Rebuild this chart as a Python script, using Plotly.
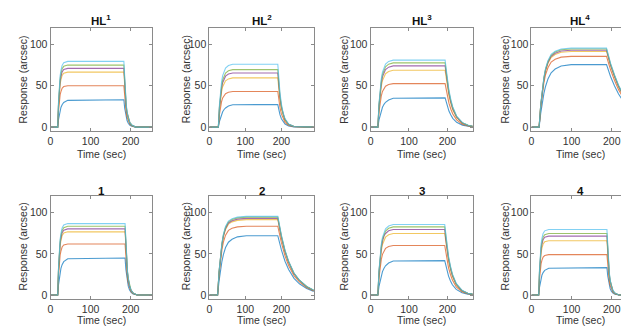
import plotly.graph_objects as go

# ---------------- data ----------------
panel_titles = ["HL<sup>1</sup>", "HL<sup>2</sup>", "HL<sup>3</sup>", "HL<sup>4</sup>", "1", "2", "3", "4"]
series_names = ["c1", "c2", "c3", "c4", "c5", "c6"]
x_tick_vals = [0, 100, 200]
y_tick_vals = [0, 50, 100]
x_max = [254, 290, 266, 243, 254, 290, 266, 243]

# HL1
t_hl1 = [0, 18, 20, 22, 24, 26, 29, 33, 43, 183, 185, 187, 189, 191, 194, 198, 203, 213, 254]
hl1_blue = [0, 0, 9.2, 15.8, 20.5, 23.8, 27.1, 29.7, 32.3, 33, 23.1, 16.2, 11.2, 7.9, 4.6, 2.3, 1.0, 0, 0]
hl1_orange = [0, 0, 19.5, 31.5, 39, 43, 47, 49, 50, 50, 35, 24.5, 17, 12, 7, 3.5, 1.5, 0, 0]
hl1_yellow = [0, 0, 25.9, 41.9, 51.9, 57.2, 62.5, 65.2, 66.5, 66.5, 46.6, 32.6, 22.6, 16.0, 9.3, 4.7, 2.0, 0, 0]
hl1_purple = [0, 0, 27.7, 44.7, 55.4, 61.1, 66.7, 69.6, 71, 71, 49.7, 34.8, 24.1, 17.0, 9.9, 5.0, 2.1, 0, 0]
hl1_green = [0, 0, 29.3, 47.3, 58.5, 64.5, 70.5, 73.5, 75, 75, 52.5, 36.8, 25.5, 18, 10.5, 5.3, 2.3, 0, 0]
hl1_lightblue = [0, 0, 31.0, 50.1, 62.0, 68.4, 74.7, 77.9, 79.5, 79.5, 55.7, 39.0, 27.0, 19.1, 11.1, 5.6, 2.4, 0, 0]

# HL2
t_hl2 = [0, 25, 28, 31, 34, 37, 41, 45, 53, 65, 190, 193, 196, 200, 205, 210, 220, 235, 290]
hl2_blue = [0, 0, 6.8, 11.7, 15.6, 18.6, 21.3, 23.2, 25.4, 27.0, 27.3, 20.2, 15.0, 10.1, 6.0, 3.7, 1.4, 0.3, 0]
hl2_orange = [0, 0, 15.1, 24.9, 31.0, 35.3, 38.7, 40.4, 42.1, 43, 43, 31.8, 23.7, 15.9, 9.5, 5.8, 2.2, 0.5, 0]
hl2_yellow = [0, 0, 20.8, 34.5, 42.8, 48.8, 53.6, 55.9, 58.3, 59.5, 59.5, 44.0, 32.7, 22.0, 13.1, 8.0, 3.0, 0.7, 0]
hl2_purple = [0, 0, 22.9, 38.0, 47.2, 53.7, 59.0, 61.6, 64.2, 65.5, 65.5, 48.5, 36.0, 24.2, 14.4, 8.8, 3.3, 0.7, 0]
hl2_green = [0, 0, 24.3, 40.3, 50.0, 57.0, 62.6, 65.3, 68.1, 69.5, 69.5, 51.4, 38.2, 25.7, 15.3, 9.4, 3.5, 0.8, 0]
hl2_lightblue = [0, 0, 26.6, 44.1, 54.7, 62.3, 68.4, 71.4, 74.5, 76, 76, 56.2, 41.8, 28.1, 16.7, 10.3, 3.8, 0.8, 0]

# HL3
t_hl3 = [0, 19, 22, 25, 28, 31, 35, 39, 47, 59, 194, 197, 200, 204, 209, 214, 224, 239, 254, 266]
hl3_blue = [0, 0, 8.8, 15.2, 20.1, 24.0, 27.5, 30.0, 32.8, 34.9, 35.3, 29.7, 24.7, 19.4, 14.5, 10.6, 5.8, 2.4, 1.0, 0.5]
hl3_orange = [0, 0, 18.4, 30.5, 37.9, 43.1, 47.3, 49.4, 51.5, 52.6, 52.6, 44.2, 36.8, 28.9, 21.6, 15.8, 8.7, 3.5, 1.4, 0.7]
hl3_yellow = [0, 0, 24.0, 39.8, 49.5, 56.3, 61.8, 64.6, 67.3, 68.7, 68.7, 57.7, 48.1, 37.8, 28.2, 20.6, 11.3, 4.6, 1.9, 0.9]
hl3_purple = [0, 0, 25.9, 42.9, 53.3, 60.7, 66.6, 69.6, 72.5, 74, 74, 62.2, 51.8, 40.7, 30.3, 22.2, 12.2, 5.0, 2.0, 1.0]
hl3_green = [0, 0, 27.2, 45.1, 55.9, 63.7, 69.9, 73.0, 76.1, 77.7, 77.7, 65.3, 54.4, 42.7, 31.9, 23.3, 12.8, 5.2, 2.1, 1.0]
hl3_lightblue = [0, 0, 28.4, 47.0, 58.3, 66.4, 72.9, 76.1, 79.4, 81, 81, 68.0, 56.7, 44.6, 33.2, 24.3, 13.4, 5.4, 2.2, 1.1]

# HL4
t_hl4 = [0, 19, 23, 27, 31, 35, 41, 49, 59, 74, 99, 187, 192, 197, 207, 217, 227, 237, 247, 255]
hl4_blue = [0, 0, 16.6, 30.2, 40.8, 49.1, 58.1, 65.7, 70.2, 74.0, 75.5, 75.5, 68.0, 61.2, 49.8, 40.0, 32.5, 26.4, 21.1, 18.1]
hl4_orange = [0, 0, 23.9, 41.9, 53.9, 63.3, 71.8, 78.7, 82.1, 84.6, 85.5, 85.5, 77.0, 69.3, 56.4, 45.3, 36.8, 29.9, 23.9, 20.5]
hl4_yellow = [0, 0, 25.6, 44.8, 57.6, 67.7, 76.9, 84.2, 87.8, 90.6, 91.5, 91.5, 82.4, 74.1, 60.4, 48.5, 39.3, 32.0, 25.6, 22.0]
hl4_purple = [0, 0, 26.0, 45.6, 58.6, 68.8, 78.1, 85.6, 89.3, 92.1, 93, 93, 83.7, 75.3, 61.4, 49.3, 40.0, 32.6, 26.0, 22.3]
hl4_green = [0, 0, 26.5, 46.3, 59.5, 69.9, 79.4, 86.9, 90.7, 93.6, 94.5, 94.5, 85.1, 76.5, 62.4, 50.1, 40.6, 33.1, 26.5, 22.7]
hl4_lightblue = [0, 0, 26.7, 46.8, 60.2, 70.7, 80.2, 87.9, 91.7, 94.5, 95.5, 95.5, 86.0, 77.4, 63.0, 50.6, 41.1, 33.4, 26.7, 22.9]

# 1
t_c1 = [0, 18, 20, 22, 24, 26, 29, 33, 43, 186, 188, 190, 192, 194, 197, 201, 206, 216, 254]
c1_blue = [0, 0, 12.6, 21.6, 27.9, 32.4, 36.9, 40.5, 44.1, 45, 31.5, 22.1, 15.3, 10.8, 6.3, 3.2, 1.4, 0, 0]
c1_orange = [0, 0, 24.2, 39.1, 48.4, 53.3, 58.3, 60.8, 62, 62, 43.4, 30.4, 21.1, 14.9, 8.7, 4.3, 1.9, 0, 0]
c1_yellow = [0, 0, 29.9, 48.3, 59.8, 66.0, 72.1, 75.2, 76.7, 76.7, 53.7, 37.6, 26.1, 18.4, 10.7, 5.4, 2.3, 0, 0]
c1_purple = [0, 0, 31.3, 50.6, 62.6, 69.1, 75.5, 78.7, 80.3, 80.3, 56.2, 39.3, 27.3, 19.3, 11.2, 5.6, 2.4, 0, 0]
c1_green = [0, 0, 32.6, 52.6, 65.1, 71.8, 78.5, 81.8, 83.5, 83.5, 58.5, 40.9, 28.4, 20.0, 11.7, 5.8, 2.5, 0, 0]
c1_lightblue = [0, 0, 33.8, 54.6, 67.6, 74.6, 81.5, 85.0, 86.7, 86.7, 60.7, 42.5, 29.5, 20.8, 12.1, 6.1, 2.6, 0, 0]

# 2
t_c2 = [0, 23, 27, 31, 35, 39, 45, 53, 63, 78, 103, 190, 195, 200, 210, 220, 235, 250, 270, 290]
c2_blue = [0, 0, 17.3, 31.0, 41.0, 49.0, 57.6, 64.1, 67.7, 70.6, 72, 72, 62.6, 54.7, 41.0, 31.0, 20.2, 13.7, 7.9, 4.3]
c2_orange = [0, 0, 25.1, 43.4, 55.1, 64.3, 72.6, 78.5, 81.0, 82.7, 83.5, 83.5, 72.6, 63.5, 47.6, 35.9, 23.4, 15.9, 9.2, 5.0]
c2_yellow = [0, 0, 27.5, 47.6, 60.4, 70.5, 79.6, 86.0, 88.8, 90.6, 91.5, 91.5, 79.6, 69.5, 52.2, 39.3, 25.6, 17.4, 10.1, 5.5]
c2_purple = [0, 0, 27.9, 48.4, 61.4, 71.6, 80.9, 87.4, 90.2, 92.1, 93, 93, 80.9, 70.7, 53.0, 40.0, 26.0, 17.7, 10.2, 5.6]
c2_green = [0, 0, 28.4, 49.1, 62.4, 72.8, 82.2, 88.8, 91.7, 93.6, 94.5, 94.5, 82.2, 71.8, 53.9, 40.6, 26.5, 18.0, 10.4, 5.7]
c2_lightblue = [0, 0, 28.7, 49.7, 63.0, 73.5, 83.1, 89.8, 92.6, 94.5, 95.5, 95.5, 83.1, 72.6, 54.4, 41.1, 26.7, 18.1, 10.5, 5.7]

# 3
t_c3 = [0, 19, 22, 25, 28, 31, 35, 39, 47, 59, 193, 196, 199, 203, 208, 213, 223, 238, 253, 266]
c3_blue = [0, 0, 10.5, 18.0, 23.8, 28.4, 32.6, 35.5, 38.9, 41.4, 41.8, 35.1, 29.3, 23.0, 17.1, 12.5, 6.9, 2.8, 1.1, 0.5]
c3_orange = [0, 0, 21.1, 34.9, 43.3, 49.4, 54.2, 56.6, 59.0, 60.2, 60.2, 50.6, 42.1, 33.1, 24.7, 18.1, 9.9, 4.0, 1.6, 0.8]
c3_yellow = [0, 0, 26.1, 43.3, 53.8, 61.3, 67.2, 70.2, 73.2, 74.7, 74.7, 62.7, 52.3, 41.1, 30.6, 22.4, 12.3, 5.0, 2.0, 1.0]
c3_purple = [0, 0, 27.8, 46.1, 57.2, 65.2, 71.6, 74.7, 77.9, 79.5, 79.5, 66.8, 55.7, 43.7, 32.6, 23.9, 13.1, 5.3, 2.1, 1.0]
c3_green = [0, 0, 28.9, 48.0, 59.5, 67.8, 74.4, 77.7, 81.0, 82.7, 82.7, 69.5, 57.9, 45.5, 33.9, 24.8, 13.6, 5.5, 2.2, 1.1]
c3_lightblue = [0, 0, 29.9, 49.6, 61.6, 70.1, 77.0, 80.4, 83.8, 85.5, 85.5, 71.8, 59.9, 47.0, 35.1, 25.7, 14.1, 5.7, 2.3, 1.1]

# 4
t_c4 = [0, 18, 20, 22, 24, 26, 29, 33, 43, 188, 190, 192, 194, 196, 199, 203, 208, 218, 250]
c4_blue = [0, 0, 9.3, 16.0, 20.6, 24.0, 27.3, 30.0, 32.6, 33.3, 23.3, 16.3, 11.3, 8.0, 4.7, 2.3, 1.0, 0, 0]
c4_orange = [0, 0, 19.1, 30.9, 38.2, 42.1, 46.1, 48.0, 49, 49, 34.3, 24.0, 16.7, 11.8, 6.9, 3.4, 1.5, 0, 0]
c4_yellow = [0, 0, 25.7, 41.5, 51.4, 56.7, 61.9, 64.6, 65.9, 65.9, 46.1, 32.3, 22.4, 15.8, 9.2, 4.6, 2.0, 0, 0]
c4_purple = [0, 0, 27.9, 45.0, 55.8, 61.5, 67.2, 70.1, 71.5, 71.5, 50.1, 35.0, 24.3, 17.2, 10.0, 5.0, 2.1, 0, 0]
c4_green = [0, 0, 29.1, 47.1, 58.3, 64.2, 70.2, 73.2, 74.7, 74.7, 52.3, 36.6, 25.4, 17.9, 10.5, 5.2, 2.2, 0, 0]
c4_lightblue = [0, 0, 31.0, 50.1, 62.0, 68.4, 74.7, 77.9, 79.5, 79.5, 55.7, 39.0, 27.0, 19.1, 11.1, 5.6, 2.4, 0, 0]

panels = [
    (t_hl1, [hl1_blue, hl1_orange, hl1_yellow, hl1_purple, hl1_green, hl1_lightblue]),
    (t_hl2, [hl2_blue, hl2_orange, hl2_yellow, hl2_purple, hl2_green, hl2_lightblue]),
    (t_hl3, [hl3_blue, hl3_orange, hl3_yellow, hl3_purple, hl3_green, hl3_lightblue]),
    (t_hl4, [hl4_blue, hl4_orange, hl4_yellow, hl4_purple, hl4_green, hl4_lightblue]),
    (t_c1, [c1_blue, c1_orange, c1_yellow, c1_purple, c1_green, c1_lightblue]),
    (t_c2, [c2_blue, c2_orange, c2_yellow, c2_purple, c2_green, c2_lightblue]),
    (t_c3, [c3_blue, c3_orange, c3_yellow, c3_purple, c3_green, c3_lightblue]),
    (t_c4, [c4_blue, c4_orange, c4_yellow, c4_purple, c4_green, c4_lightblue]),
]

# ---------------- styling ----------------
# the page body adds an 8px margin; the figure is shrunk and shifted to compensate
OFF = 8
W, H = 629 - OFF, 331 - OFF
colors = ["#0072BD", "#D95319", "#EDB120", "#7E2F8E", "#77AC30", "#4DBEEE"]
col_px = [(47.7, 150.0), (207.3, 312.3), (369.3, 472.0), (531.0, 629.0)]
row_px = [(28.0, 132.0), (197.3, 301.0)]
ylabel_x_px = [20.0, 183.5, 341.7, 504.3]
ylabel_y_px = [80.0, 248.0]
xlabel_y_px = [155.0, 321.5]
title_y_px = [20.0, 192.0]
FONT = "Liberation Sans, Arial, Helvetica, sans-serif"
axis_col = "#8a8a8a"


def px_x(v):
    return (v - OFF) / W


def px_y(v):
    return 1 - (v - OFF) / H


fig = go.Figure()
layout = dict(
    width=W, height=H, margin=dict(l=0, r=0, t=0, b=0),
    paper_bgcolor="white", plot_bgcolor="white", showlegend=False,
    font=dict(family=FONT, size=10, color="#333333"),
)
annotations = []

for i, (t, curves) in enumerate(panels):
    r, c = divmod(i, 4)
    n = i + 1
    xa = "xaxis" if n == 1 else f"xaxis{n}"
    ya = "yaxis" if n == 1 else f"yaxis{n}"
    xref = "x" if n == 1 else f"x{n}"
    yref = "y" if n == 1 else f"y{n}"
    x0, x1 = col_px[c]
    y0, y1 = row_px[r]
    layout[xa] = dict(
        domain=[px_x(x0), min(1.0, px_x(x1))], anchor=yref, range=[0, x_max[i]],
        tickvals=x_tick_vals, ticks="inside", ticklen=3, tickcolor=axis_col,
        showline=True, linecolor=axis_col, linewidth=1, mirror="ticks",
        showgrid=False, zeroline=False,
        tickfont=dict(family=FONT, size=10.5, color="#333333"),
    )
    layout[ya] = dict(
        domain=[px_y(y1), px_y(y0)], anchor=xref, range=[-5, 120],
        tickvals=y_tick_vals, ticks="inside", ticklen=3, tickcolor=axis_col,
        showline=True, linecolor=axis_col, linewidth=1,
        mirror="ticks" if c < 3 else False,
        showgrid=False, zeroline=False,
        tickfont=dict(family=FONT, size=10.5, color="#333333"),
    )
    for name, vals, col in zip(series_names, curves, colors):
        fig.add_trace(go.Scatter(
            x=t, y=vals, mode="lines", name=name, xaxis=xref, yaxis=yref,
            line=dict(color=col, width=1.1), opacity=0.7, hoverinfo="skip",
        ))
    cx = px_x((x0 + x1) / 2)
    annotations.append(dict(
        text=f"<b>{panel_titles[i]}</b>", x=cx, y=px_y(title_y_px[r]),
        xref="paper", yref="paper", showarrow=False, xanchor="center", yanchor="middle",
        font=dict(family=FONT, size=11.5, color="#111111"),
    ))
    annotations.append(dict(
        text="Time (sec)", x=cx, y=px_y(xlabel_y_px[r]),
        xref="paper", yref="paper", showarrow=False, xanchor="center", yanchor="middle",
        font=dict(family=FONT, size=10.5, color="#333333"),
    ))
    annotations.append(dict(
        text="Response (arcsec)", x=px_x(ylabel_x_px[c]), y=px_y(ylabel_y_px[r]),
        xref="paper", yref="paper", showarrow=False, xanchor="center", yanchor="middle",
        textangle=-90, font=dict(family=FONT, size=10.5, color="#333333"),
    ))

layout["annotations"] = annotations
fig.update_layout(**layout)
fig.write_html("out.html")
